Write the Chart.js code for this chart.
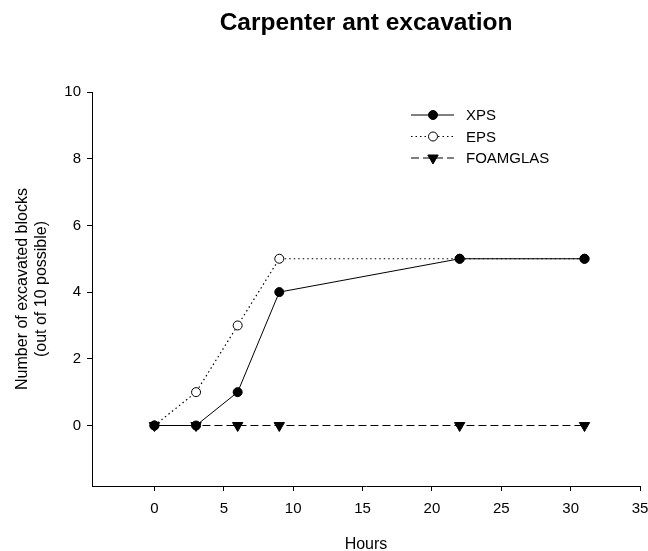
<!DOCTYPE html>
<html>
<head>
<meta charset="utf-8">
<script src="https://cdn.jsdelivr.net/npm/chart.js@4.4.1/dist/chart.umd.min.js"></script>
<style>
    html, body { margin: 0; padding: 0; background: #fff; }
    #wrap { width: 648px; height: 551px; }
</style>
</head>
<body>
<div id="wrap"><canvas id="antChart"></canvas></div>
<script>
// data
const hours = [0, 3, 6, 9, 22, 31];
const xpsBlocks = [0, 0, 1, 4, 5, 5];
const epsBlocks = [0, 1, 3, 5, 5, 5];
const foamglasBlocks = [0, 0, 0, 0, 0, 0];
const seriesNames = ["XPS", "EPS", "FOAMGLAS"];
const xTicks = [0, 5, 10, 15, 20, 25, 30, 35];
const yTicks = [0, 2, 4, 6, 8, 10];
const chartTitle = "Carpenter ant excavation";

const FONT = "'Liberation Sans', Arial, sans-serif";

function toPoints(ys) {
    return hours.map(function (h, i) { return { x: h, y: ys[i] }; });
}

// title centred over the plot area, and a legend with line sample + marker
const decorations = {
    id: "decorations",
    afterDraw(chart) {
        const ctx = chart.ctx;
        const area = chart.chartArea;
        ctx.save();
        ctx.fillStyle = "#000";
        ctx.font = "bold 24.5px " + FONT;
        ctx.textAlign = "center";
        ctx.textBaseline = "middle";
        ctx.fillText(chartTitle, (area.left + area.right) / 2, 23);

        ctx.textAlign = "left";
        chart.data.datasets.forEach(function (ds, i) {
            const y = 115 + i * 21.5;
            ctx.strokeStyle = "#000";
            ctx.lineWidth = 1;
            ctx.setLineDash(ds.borderDash || []);
            ctx.beginPath();
            ctx.moveTo(411, y);
            ctx.lineTo(454, y);
            ctx.stroke();
            ctx.setLineDash([]);
            ctx.fillStyle = ds.pointBackgroundColor;
            ctx.beginPath();
            if (ds.pointStyle === "triangle") {
                const r = ds.pointRadius;
                ctx.moveTo(433 - r * 0.866, y - r * 0.5);
                ctx.lineTo(433 + r * 0.866, y - r * 0.5);
                ctx.lineTo(433, y + r);
                ctx.closePath();
            } else {
                ctx.arc(433, y, ds.pointRadius, 0, Math.PI * 2);
            }
            ctx.fill();
            ctx.stroke();
            ctx.fillStyle = "#000";
            ctx.font = "15px " + FONT;
            ctx.textBaseline = "middle";
            ctx.fillText(ds.label, 466, y + 1);
        });
        ctx.restore();
    }
};

new Chart(document.getElementById("antChart"), {
    type: "line",
    data: {
        datasets: [{
            label: seriesNames[0],
            data: toPoints(xpsBlocks),
            borderColor: "#000",
            borderWidth: 1,
            pointRadius: 4.5,
            pointBackgroundColor: "#000",
            pointBorderColor: "#000",
            pointStyle: "circle",
            order: 1
        }, {
            label: seriesNames[1],
            data: toPoints(epsBlocks),
            borderColor: "#000",
            borderWidth: 1.2,
            borderDash: [1.5, 3],
            pointRadius: 4.5,
            pointBackgroundColor: "#fff",
            pointBorderColor: "#000",
            pointBorderWidth: 1,
            pointStyle: "circle",
            order: 2
        }, {
            label: seriesNames[2],
            data: toPoints(foamglasBlocks),
            borderColor: "#000",
            borderWidth: 1,
            borderDash: [8, 4],
            pointRadius: 6,
            pointBackgroundColor: "#000",
            pointBorderColor: "#000",
            pointStyle: "triangle",
            rotation: 180,
            order: 0
        }]
    },
    options: {
        responsive: true,
        maintainAspectRatio: false,
        animation: false,
        layout: { padding: { left: 0, right: 0, top: 92, bottom: 0 } },
        plugins: {
            legend: { display: false },
            tooltip: { enabled: false },
            title: { display: false }
        },
        scales: {
            x: {
                type: "linear",
                min: -4.5,
                max: 35,
                afterBuildTicks(scale) { scale.ticks = xTicks.map(function (v) { return { value: v }; }); },
                afterFit(scale) {
                    scale.height = 65;
                    scale.paddingLeft = 0;
                    scale.paddingRight = 8;
                },
                grid: { drawOnChartArea: false, drawTicks: true, tickLength: 5, tickColor: "#000" },
                border: { display: true, color: "#000", width: 1 },
                ticks: { color: "#000", padding: 9, maxRotation: 0, font: { family: FONT, size: 15 } },
                title: {
                    display: true,
                    text: "Hours",
                    color: "#000",
                    font: { family: FONT, size: 16, lineHeight: 1 },
                    padding: { top: 0, bottom: -2 }
                }
            },
            y: {
                min: -1.814,
                max: 10,
                afterBuildTicks(scale) { scale.ticks = yTicks.map(function (v) { return { value: v }; }); },
                afterFit(scale) { scale.width = 92; },
                grid: { drawOnChartArea: false, drawTicks: true, tickLength: 5, tickColor: "#000" },
                border: { display: true, color: "#000", width: 1 },
                ticks: { color: "#000", padding: 6, font: { family: FONT, size: 15 } },
                title: {
                    display: true,
                    text: ["Number of excavated blocks", "(out of 10 possible)"],
                    color: "#000",
                    font: { family: FONT, size: 16, lineHeight: 1.2 },
                    padding: { top: 13, bottom: 0 }
                }
            }
        }
    },
    plugins: [decorations]
});
</script>
</body>
</html>
